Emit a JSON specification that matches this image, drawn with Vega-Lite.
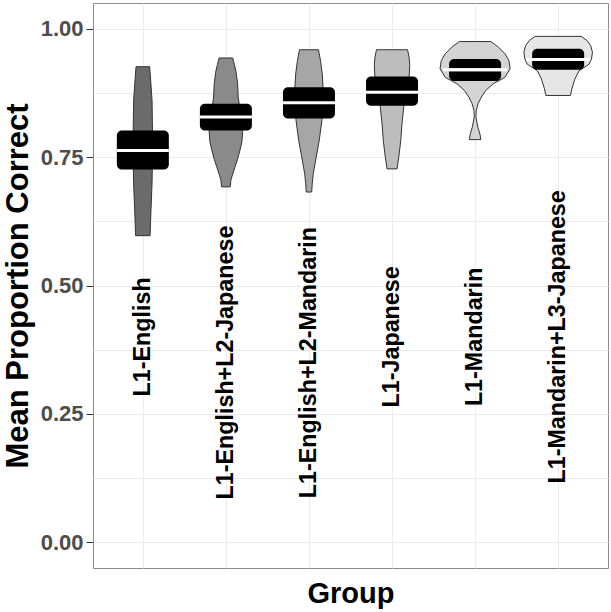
{
  "$schema": "https://vega.github.io/schema/vega-lite/v6.json",
  "width": 515,
  "height": 565,
  "autosize": {"type": "none"},
  "padding": {"left": 93, "top": 3, "right": 3, "bottom": 44},
  "background": "white",
  "datasets": {
    "violin": [
      {"g": 1, "v": 0.926, "w": 0.082}, {"g": 1, "v": 0.9, "w": 0.094}, {"g": 1, "v": 0.86, "w": 0.111},
      {"g": 1, "v": 0.8, "w": 0.116}, {"g": 1, "v": 0.75, "w": 0.116}, {"g": 1, "v": 0.7, "w": 0.111},
      {"g": 1, "v": 0.65, "w": 0.099}, {"g": 1, "v": 0.597, "w": 0.087},
      {"g": 2, "v": 0.943, "w": 0.082}, {"g": 2, "v": 0.93, "w": 0.102}, {"g": 2, "v": 0.918, "w": 0.12},
      {"g": 2, "v": 0.893, "w": 0.141}, {"g": 2, "v": 0.867, "w": 0.148}, {"g": 2, "v": 0.835, "w": 0.175},
      {"g": 2, "v": 0.8, "w": 0.202}, {"g": 2, "v": 0.78, "w": 0.193}, {"g": 2, "v": 0.763, "w": 0.169},
      {"g": 2, "v": 0.745, "w": 0.139}, {"g": 2, "v": 0.73, "w": 0.108}, {"g": 2, "v": 0.715, "w": 0.078},
      {"g": 2, "v": 0.705, "w": 0.06}, {"g": 2, "v": 0.692, "w": 0.052},
      {"g": 3, "v": 0.959, "w": 0.114}, {"g": 3, "v": 0.938, "w": 0.139}, {"g": 3, "v": 0.912, "w": 0.16},
      {"g": 3, "v": 0.886, "w": 0.169}, {"g": 3, "v": 0.855, "w": 0.166}, {"g": 3, "v": 0.823, "w": 0.157},
      {"g": 3, "v": 0.783, "w": 0.124}, {"g": 3, "v": 0.75, "w": 0.087}, {"g": 3, "v": 0.718, "w": 0.052},
      {"g": 3, "v": 0.698, "w": 0.039}, {"g": 3, "v": 0.682, "w": 0.033},
      {"g": 4, "v": 0.959, "w": 0.187}, {"g": 4, "v": 0.945, "w": 0.205}, {"g": 4, "v": 0.93, "w": 0.213},
      {"g": 4, "v": 0.91, "w": 0.208}, {"g": 4, "v": 0.88, "w": 0.193}, {"g": 4, "v": 0.86, "w": 0.151},
      {"g": 4, "v": 0.847, "w": 0.141}, {"g": 4, "v": 0.815, "w": 0.12}, {"g": 4, "v": 0.782, "w": 0.105},
      {"g": 4, "v": 0.75, "w": 0.081}, {"g": 4, "v": 0.727, "w": 0.06},
      {"g": 5, "v": 0.975, "w": 0.19}, {"g": 5, "v": 0.964, "w": 0.281}, {"g": 5, "v": 0.951, "w": 0.361},
      {"g": 5, "v": 0.938, "w": 0.407}, {"g": 5, "v": 0.922, "w": 0.422}, {"g": 5, "v": 0.905, "w": 0.358},
      {"g": 5, "v": 0.893, "w": 0.22}, {"g": 5, "v": 0.88, "w": 0.13}, {"g": 5, "v": 0.867, "w": 0.076},
      {"g": 5, "v": 0.854, "w": 0.036}, {"g": 5, "v": 0.841, "w": 0.014}, {"g": 5, "v": 0.828, "w": 0.01},
      {"g": 5, "v": 0.808, "w": 0.034}, {"g": 5, "v": 0.795, "w": 0.058}, {"g": 5, "v": 0.784, "w": 0.07},
      {"g": 6, "v": 0.985, "w": 0.277}, {"g": 6, "v": 0.977, "w": 0.347}, {"g": 6, "v": 0.967, "w": 0.392},
      {"g": 6, "v": 0.954, "w": 0.413}, {"g": 6, "v": 0.941, "w": 0.401}, {"g": 6, "v": 0.931, "w": 0.373},
      {"g": 6, "v": 0.918, "w": 0.251}, {"g": 6, "v": 0.902, "w": 0.201}, {"g": 6, "v": 0.883, "w": 0.165},
      {"g": 6, "v": 0.87, "w": 0.148}
    ],
    "summary": [
      {"g": 1, "lo": 0.726, "hi": 0.802, "mean": 0.763},
      {"g": 2, "lo": 0.802, "hi": 0.854, "mean": 0.828},
      {"g": 3, "lo": 0.825, "hi": 0.886, "mean": 0.856},
      {"g": 4, "lo": 0.850, "hi": 0.907, "mean": 0.876},
      {"g": 5, "lo": 0.898, "hi": 0.941, "mean": 0.920},
      {"g": 6, "lo": 0.920, "hi": 0.961, "mean": 0.940}
    ],
    "labels": [
      {"g": 1, "label": "L1-English", "ly": 0.40},
      {"g": 2, "label": "L1-English+L2-Japanese", "ly": 0.35},
      {"g": 3, "label": "L1-English+L2-Mandarin", "ly": 0.35},
      {"g": 4, "label": "L1-Japanese", "ly": 0.40},
      {"g": 5, "label": "L1-Mandarin", "ly": 0.40},
      {"g": 6, "label": "L1-Mandarin+L3-Japanese", "ly": 0.40}
    ]
  },
  "layer": [
    {
      "data": {"name": "violin"},
      "transform": [
        {"calculate": "datum.g - datum.w", "as": "lo"},
        {"calculate": "datum.g + datum.w", "as": "hi"}
      ],
      "mark": {"type": "area", "orient": "horizontal", "stroke": "#333333", "strokeWidth": 1, "opacity": 1},
      "encoding": {
        "x": {
          "field": "lo", "type": "quantitative", "title": "Group",
          "scale": {"domain": [0.4, 6.6], "nice": false, "zero": false, "padding": 0},
          "axis": {"values": [1, 2, 3, 4, 5, 6], "labels": false, "ticks": false, "domain": false, "grid": true, "titlePadding": 11}
        },
        "x2": {"field": "hi"},
        "y": {
          "field": "v", "type": "quantitative", "title": "Mean Proportion Correct",
          "scale": {"domain": [-0.05, 1.05], "nice": false, "zero": false, "padding": 0},
          "axis": {
            "values": [0, 0.125, 0.25, 0.375, 0.5, 0.625, 0.75, 0.875, 1],
            "labelExpr": "datum.value * 4 % 1 === 0 ? format(datum.value, '.2f') : ''",
            "labelOverlap": false,
            "tickOpacity": {"condition": {"test": "datum.value * 4 % 1 !== 0", "value": 0}, "value": 1},
            "domain": false, "grid": true, "titlePadding": 6
          }
        },
        "fill": {
          "field": "g", "type": "nominal", "legend": null,
          "scale": {"domain": [1, 2, 3, 4, 5, 6], "range": ["#6b6b6b", "#8a8a8a", "#a6a6a6", "#bdbdbd", "#d4d4d4", "#e6e6e6"]}
        }
      }
    },
    {
      "data": {"name": "summary"},
      "mark": {"type": "bar", "width": 52, "cornerRadius": 5, "color": "black"},
      "encoding": {
        "x": {"field": "g", "type": "quantitative", "title": "Group"},
        "y": {"field": "lo", "type": "quantitative", "title": "Mean Proportion Correct"},
        "y2": {"field": "hi"}
      }
    },
    {
      "data": {"name": "summary"},
      "mark": {"type": "tick", "orient": "horizontal", "size": 52, "thickness": 3, "color": "white", "opacity": 1},
      "encoding": {
        "x": {"field": "g", "type": "quantitative", "title": "Group"},
        "y": {"field": "mean", "type": "quantitative", "title": "Mean Proportion Correct"}
      }
    },
    {
      "data": {"name": "summary"},
      "transform": [{"filter": "datum.g >= 5"}],
      "mark": {"type": "tick", "orient": "horizontal", "size": 64, "thickness": 3, "color": "white", "opacity": 1},
      "encoding": {
        "x": {"field": "g", "type": "quantitative", "title": "Group"},
        "y": {"field": "mean", "type": "quantitative", "title": "Mean Proportion Correct"}
      }
    },
    {
      "data": {"name": "labels"},
      "mark": {"type": "text", "angle": 270, "align": "center", "baseline": "middle", "fontSize": 23.3, "fontWeight": "bold", "font": "Liberation Sans", "color": "black"},
      "encoding": {
        "x": {"field": "g", "type": "quantitative", "title": "Group"},
        "y": {"field": "ly", "type": "quantitative", "title": "Mean Proportion Correct"},
        "text": {"field": "label", "type": "nominal"}
      }
    }
  ],
  "config": {
    "font": "Liberation Sans",
    "view": {"stroke": "#8c8c8c", "strokeWidth": 1},
    "axis": {
      "gridColor": "#ebebeb",
      "gridWidth": 1,
      "tickColor": "#333333",
      "tickSize": 7,
      "tickWidth": 1,
      "labelPadding": 3,
      "labelFont": "Liberation Sans",
      "labelFontSize": 22,
      "labelFontWeight": "bold",
      "labelColor": "#4d4d4d",
      "titleFont": "Liberation Sans",
      "titleFontWeight": "bold",
      "titleColor": "black"
    },
    "axisY": {"titleFontSize": 31},
    "axisX": {"titleFontSize": 29}
  }
}
